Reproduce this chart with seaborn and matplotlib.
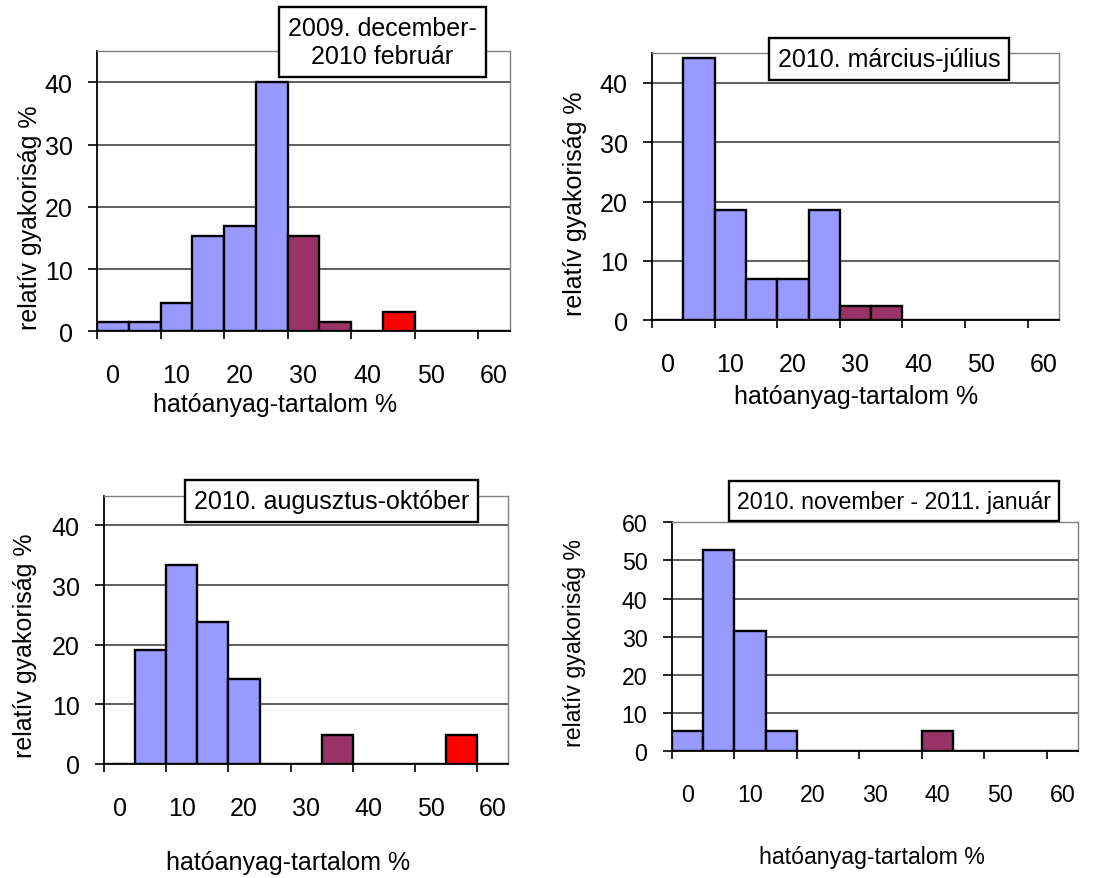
import numpy as np
import pandas as pd
import matplotlib
matplotlib.use("Agg")
import matplotlib.pyplot as plt
from matplotlib.ticker import FixedLocator
import seaborn as sns

sns.set_theme(style="white")
plt.rcParams['font.family'] = ['Liberation Sans', 'DejaVu Sans']
plt.rcParams.update({'text.color': 'black', 'axes.labelcolor': 'black',
                     'xtick.color': 'black', 'ytick.color': 'black'})

# ---- data ----
categories = [0, 5, 10, 15, 20, 25, 30, 35, 40, 45, 50, 55, 60]
tick_labels = ["0", "10", "20", "30", "40", "50", "60"]
period_titles = ["2009. december-\n2010 február",
                 "2010. március-július",
                 "2010. augusztus-október",
                 "2010. november - 2011. január"]
freq_dec_feb = [1.54, 1.54, 4.62, 15.38, 16.92, 40.0, 15.38, 1.54, 0, 3.08, 0, 0, 0]
freq_mar_jul = [0, 44.19, 18.60, 6.98, 6.98, 18.60, 2.33, 2.33, 0, 0, 0, 0, 0]
freq_aug_oct = [0, 19.05, 33.33, 23.81, 14.29, 0, 0, 4.76, 0, 0, 0, 4.76, 0]
freq_nov_jan = [5.26, 52.63, 31.58, 5.26, 0, 0, 0, 0, 5.26, 0, 0, 0, 0]
x_label = "hatóanyag-tartalom %"
y_label = "relatív gyakoriság %"

BLUE, MAROON, RED = "#9999FF", "#993366", "#FF0000"
def cat_color(c):
    if c <= 25:
        return BLUE
    if c <= 40:
        return MAROON
    return RED
palette = {str(c): cat_color(c) for c in categories}

W, H = 1115, 879
fig = plt.figure(figsize=(W / 100, H / 100), dpi=100)

# (left, right, top, bottom) in pixels
panels = [
    dict(vals=freq_dec_feb, rect=(97, 510, 52.3, 332.3), ymax=45, yt=[0, 10, 20, 30, 40],
         title_xy=(0.691, 1.033), ylab=(-0.162, 0.408), xlab=(0.431, -0.26), fs=18),
    dict(vals=freq_mar_jul, rect=(652, 1059, 54.3, 321.3), ymax=45, yt=[0, 10, 20, 30, 40],
         title_xy=(0.582, 0.979), ylab=(-0.189, 0.439), xlab=(0.501, -0.283), fs=18),
    dict(vals=freq_aug_oct, rect=(104, 508.3, 496.7, 764.7), ymax=45, yt=[0, 10, 20, 30, 40],
         title_xy=(0.562, 0.980), ylab=(-0.195, 0.443), xlab=(0.456, -0.367), fs=18),
    dict(vals=freq_nov_jan, rect=(671.7, 1078.3, 523.3, 752), ymax=60, yt=[0, 10, 20, 30, 40, 50, 60],
         title_xy=(0.547, 1.093), ylab=(-0.238, 0.477), xlab=(0.493, -0.463), fs=16.7),
]

order = [str(c) for c in categories]
for p, title in zip(panels, period_titles):
    l, r, t, b = p['rect']
    ax = fig.add_axes([l / W, (H - b) / H, (r - l) / W, (b - t) / H])
    df = pd.DataFrame({'cat': order, 'freq': p['vals']})
    sns.barplot(data=df, x='cat', y='freq', hue='cat', palette=palette, order=order,
                hue_order=order, width=1.0, edgecolor='black', linewidth=1.7,
                saturation=1, errorbar=None, legend=False, ax=ax, zorder=3)
    fs = p['fs']
    ax.set_xlim(-0.5, 12.5)
    ax.set_ylim(0, p['ymax'])
    ax.set_yticks(p['yt'])
    ax.set_yticklabels([str(v) for v in p['yt']])
    ax.set_xticks(range(0, 13, 2))
    ax.set_xticklabels(tick_labels)
    ax.xaxis.set_minor_locator(FixedLocator(np.arange(-0.5, 12, 2)))
    ax.tick_params(axis='x', which='major', length=0, pad=23, labelsize=fs)
    ax.tick_params(axis='x', which='minor', bottom=True, length=6, width=1.2,
                   color='black', direction='out')
    ax.tick_params(axis='y', which='major', left=True, length=6.5, width=1.2,
                   direction='out', pad=11, labelsize=fs, color='black')
    ax.yaxis.grid(True, color='#333333', lw=1.1)
    ax.xaxis.grid(False)
    ax.set_axisbelow(True)
    for s in ['left', 'bottom']:
        ax.spines[s].set_color('black')
        ax.spines[s].set_linewidth(1.3)
    for s in ['top', 'right']:
        ax.spines[s].set_color('#808080')
        ax.spines[s].set_linewidth(1.0)
    ax.set_ylabel(y_label, fontsize=fs)
    ax.yaxis.set_label_coords(*p['ylab'])
    ax.yaxis.label.set_va('center')
    ax.set_xlabel(x_label, fontsize=fs)
    ax.xaxis.set_label_coords(*p['xlab'])
    ax.xaxis.label.set_va('center')
    ax.text(p['title_xy'][0], p['title_xy'][1], title, transform=ax.transAxes,
            ha='center', va='center', multialignment='center', fontsize=fs,
            linespacing=1.25,
            bbox=dict(boxstyle='square,pad=0.36', fc='white', ec='black', lw=1.7),
            zorder=10, clip_on=False)

fig.savefig("out.png", dpi=100)
